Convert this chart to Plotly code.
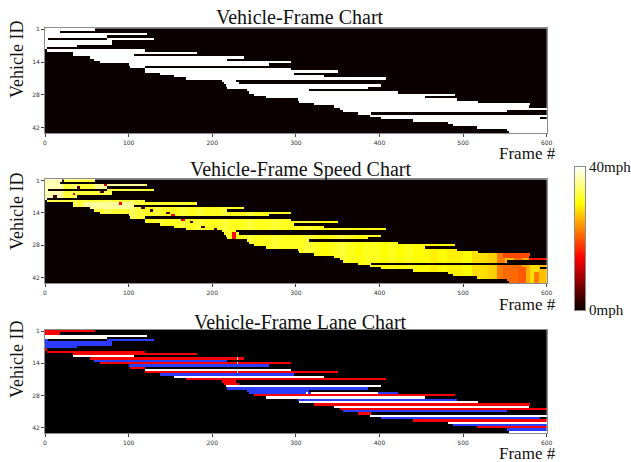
import numpy as np
import plotly.graph_objects as go

N_VEHICLES = 45
N_FRAMES = 600

# ---- lane codes ----
RED, WHITE, BLUE = 1, 2, 3

# ---- track segments: vehicle row, start frame, end frame, lane ----
seg_row = [0, 1, 2, 3, 4, 4, 5, 6, 7, 8, 9, 10, 11, 12, 13, 14, 15, 16, 17, 18,
           19, 20, 21, 22, 23, 24, 25, 26, 27, 27, 27, 27, 27, 28, 29, 30, 31,
           32, 33, 34, 35, 36, 37, 38, 39, 40, 41, 42, 43, 44,
           12, 14, 18]
seg_start = [0, 0, 0, 0, 0, 74, 0, 0, 0, 0, 2, 34, 34, 54, 58, 66, 100, 102, 120, 120,
             138, 154, 168, 212, 214, 216, 218, 242, 244, 312, 314, 318, 398, 250, 264, 302, 304,
             322, 346, 352, 356, 374, 388, 402, 440, 482, 488, 516, 552, 554,
             229, 229, 229]
seg_end = [60, 18, 122, 74, 4, 130, 80, 80, 38, 2, 120, 182, 106, 238, 218, 294, 268, 120, 294, 350,
           298, 334, 408, 228, 232, 402, 386, 316, 312, 314, 318, 398, 422, 490, 454, 492, 518,
           580, 578, 600, 552, 390, 600, 592, 600, 600, 600, 600, 600, 600,
           231, 231, 231]
seg_lane = [RED, RED, WHITE, WHITE, BLUE, BLUE, BLUE, BLUE, BLUE, RED, RED, RED, WHITE, RED, BLUE, RED, BLUE, RED, WHITE, RED,
            BLUE, WHITE, RED, RED, RED, WHITE, BLUE, BLUE, BLUE, WHITE, BLUE, WHITE, BLUE, RED, WHITE, BLUE, WHITE,
            RED, WHITE, RED, BLUE, RED, WHITE, BLUE, RED, WHITE, BLUE, RED, BLUE, WHITE,
            WHITE, WHITE, WHITE]

# ---- typical speed (mph) per 10-frame bin ----
spd_bin_mph = [
    33, 33, 32, 33, 32, 32,
    32, 33, 32, 32, 33, 32,
    31, 32, 31, 31, 32, 31,
    32, 31, 31, 32, 31, 31,
    32, 31, 31, 32, 31, 31,
    31, 32, 31, 30, 31, 32,
    31, 30, 31, 31, 30, 31,
    30, 31, 30, 30, 29, 30,
    29, 29, 30, 28, 28, 27,
    22, 26, 21, 25, 28, 26,
]

# ---- local speed patches: first row, last row, start frame, end frame, mph ----
pt_row0 = [0, 10, 2, 0, 2, 3, 5, 6, 7, 10, 12, 13, 14, 15, 17, 18, 20, 21, 23, 32, 34, 36, 38, 40]
pt_row1 = [8, 12, 3, 0, 2, 3, 5, 6, 7, 10, 12, 13, 14, 15, 17, 18, 20, 21, 26, 33, 34, 44, 44, 44]
pt_f0 = [0, 45, 60, 20, 71, 38, 66, 33, 10, 89, 115, 125, 145, 151, 163, 173, 187, 202, 224, 548, 578, 548, 565, 585]
pt_f1 = [22, 105, 120, 23, 74, 42, 70, 36, 14, 92, 119, 129, 149, 155, 167, 177, 191, 206, 228, 580, 600, 560, 575, 590]
pt_mph = [37, 36, 36, 3, 12, 4, 4, 14, 4, 14, 4, 4, 4, 14, 14, 4, 4, 4, 15, 19, 16, 21, 20, 22]

# ---- axis tick labels ----
frame_ticks = [0, 100, 200, 300, 400, 500, 600]
id_tick_pos = [0, 14, 28, 42]
id_tick_text = ["1", "14", "28", "42"]
speed_min, speed_max = 0, 40
speed_labels = ["0mph", "40mph"]

# ---- build the matrices from the data ----
presence = np.zeros((N_VEHICLES, N_FRAMES))
lane = np.zeros((N_VEHICLES, N_FRAMES))
for r, s, e, l in zip(seg_row, seg_start, seg_end, seg_lane):
    presence[r, s:e] = 1
    lane[r, s:e] = l

frames = np.arange(N_FRAMES)
speed = np.where(presence > 0, np.array(spd_bin_mph)[frames // 10][None, :], 0.0)
for r0, r1, f0, f1, v in zip(pt_row0, pt_row1, pt_f0, pt_f1, pt_mph):
    block = presence[r0:r1 + 1, f0:f1] > 0
    sub = speed[r0:r1 + 1, f0:f1]
    sub[block] = v

W, H = 631, 462


def px_x(p):
    return p / W


def px_y(p):
    return 1 - p / H


hot = [[0.0, "rgb(11,0,0)"], [0.365, "rgb(255,0,0)"], [0.746, "rgb(255,255,0)"], [1.0, "rgb(255,255,255)"]]
lane_scale = [[0, "#000000"], [0.1667, "#000000"], [0.1667, "#f80000"], [0.5, "#f80000"],
              [0.5, "#ffffff"], [0.8333, "#ffffff"], [0.8333, "#2b3cff"], [1, "#2b3cff"]]

fig = go.Figure()
common = dict(x0=0.5, dx=1, y0=0, dy=1, zsmooth=False, hoverinfo="skip", showscale=False)
fig.add_trace(go.Heatmap(z=presence, colorscale=[[0, "rgb(11,0,0)"], [1, "#ffffff"]], zmin=0, zmax=1,
                         xaxis="x", yaxis="y", **common))
fig.add_trace(go.Heatmap(z=speed, colorscale=hot, zmin=speed_min, zmax=speed_max,
                         xaxis="x2", yaxis="y2", **common))
fig.add_trace(go.Heatmap(z=lane, colorscale=lane_scale, zmin=0, zmax=3,
                         xaxis="x3", yaxis="y3", **common))

# colour bar for the speed chart, drawn as a one-column heatmap of the speed scale
bar_vals = np.linspace(speed_min, speed_max, 161)
fig.add_trace(go.Heatmap(z=bar_vals[:, None], x=[0], y=bar_vals, colorscale=hot, zmin=speed_min,
                         zmax=speed_max, showscale=False, hoverinfo="skip", zsmooth=False,
                         xaxis="x4", yaxis="y4"))

xdom = [px_x(45), px_x(546.7)]
ydoms = [(28.2, 133.3), (179.3, 283.3), (330, 433.3)]
axis_style = dict(showline=True, mirror=True, linecolor="#8c8c8c", linewidth=1, ticks="outside",
                  ticklen=3, tickwidth=0.8, tickcolor="#444", showgrid=False, zeroline=False,
                  tickfont=dict(family="DejaVu Sans", size=6, color="#333"))
for i, (t, b) in enumerate(ydoms):
    sfx = "" if i == 0 else str(i + 1)
    fig.layout["xaxis" + sfx] = dict(domain=xdom, range=[0, 600], tickvals=frame_ticks,
                                     anchor="y" + sfx, **axis_style)
    fig.layout["yaxis" + sfx] = dict(domain=[px_y(b), px_y(t)], range=[N_VEHICLES - 0.5, -0.5],
                                     tickvals=id_tick_pos, ticktext=id_tick_text,
                                     anchor="x" + sfx, **axis_style)

fig.layout["xaxis4"] = dict(domain=[px_x(575), px_x(585)], range=[-0.5, 0.5], showticklabels=False,
                            ticks="", showgrid=False, zeroline=False, showline=True, mirror=True,
                            linecolor="#8c8c8c", linewidth=1, anchor="y4")
fig.layout["yaxis4"] = dict(domain=[px_y(310), px_y(166.7)], range=[speed_min, speed_max],
                            tickvals=[speed_min, speed_max], ticktext=speed_labels, side="right",
                            ticks="", showgrid=False, zeroline=False, showline=True, mirror=True,
                            linecolor="#8c8c8c", linewidth=1, anchor="x4",
                            tickfont=dict(family="Liberation Serif", size=15, color="#111"))

titles = ["Vehicle-Frame Chart", "Vehicle-Frame Speed Chart", "Vehicle-Frame Lane Chart"]
title_y = [17.5, 169, 321.5]
ylab_y = [60, 212, 360]
frame_y = [153, 304, 453]
ann = []
serif = "Liberation Serif"
for i in range(3):
    ann.append(dict(text=titles[i], x=px_x(300), y=px_y(title_y[i]), xref="paper", yref="paper",
                    xanchor="center", yanchor="middle", showarrow=False,
                    font=dict(family=serif, size=20, color="#111")))
    ann.append(dict(text="Vehicle ID", x=px_x(17), y=px_y(ylab_y[i]), xref="paper", yref="paper",
                    xanchor="center", yanchor="middle", textangle=-90, showarrow=False,
                    font=dict(family=serif, size=18, color="#111")))
    ann.append(dict(text="Frame #", x=px_x(527.5), y=px_y(frame_y[i]), xref="paper", yref="paper",
                    xanchor="center", yanchor="middle", showarrow=False,
                    font=dict(family=serif, size=17, color="#111")))

fig.update_layout(width=W, height=H, margin=dict(l=0, r=0, t=0, b=0, autoexpand=False),
                  paper_bgcolor="white", plot_bgcolor="white", showlegend=False, annotations=ann)
fig.write_html("out.html", config={"displayModeBar": False},
               post_script="document.body.style.margin='0';document.body.style.padding='0';")
